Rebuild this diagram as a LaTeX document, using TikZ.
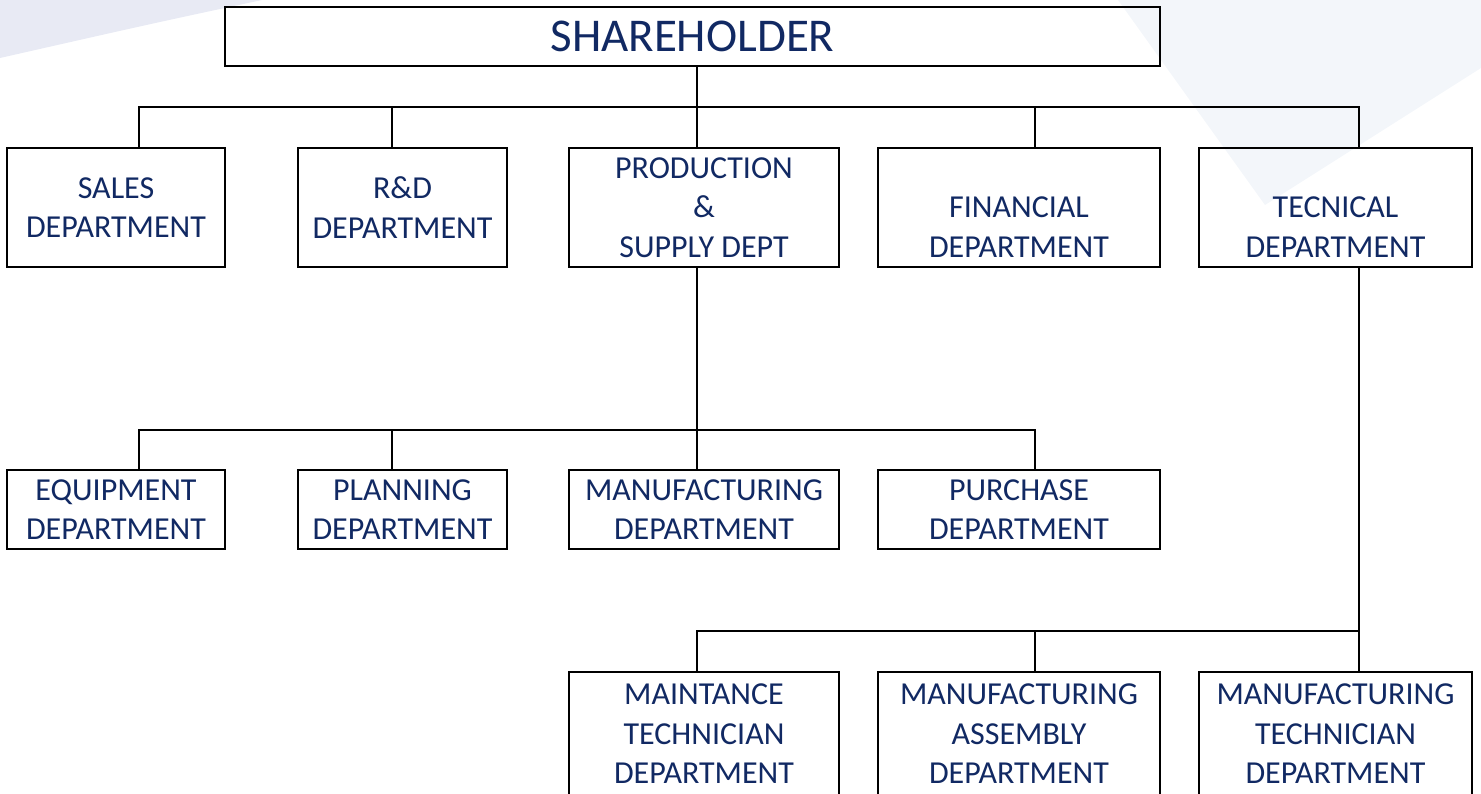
\documentclass[tikz,border=0pt]{standalone}
\usepackage{fontspec}
\setmainfont{Carlito}
\definecolor{deptblue}{RGB}{17,41,99}
\definecolor{shadeleft}{RGB}{232,234,244}
\definecolor{shaderight}{RGB}{243,246,250}

\begin{document}
\begin{tikzpicture}[x=1pt, y=-1pt]
        \tikzstyle{dept}=[rectangle, draw=black, line width=2.8pt, inner sep=0pt, align=center, text=deptblue, font=\fontsize{32}{39.5}\selectfont]
        \tikzstyle{link}=[draw=black, line width=2.8pt, line join=miter]

        \useasboundingbox (0,0) rectangle (1481,793);
        % faint background shapes
        \fill[shadeleft] (0,0) -- (262,0) .. controls (150,24) .. (0,58) -- cycle;
        \fill[shaderight] (1118,0) -- (1265,205) -- (1481,68) -- (1481,0) -- cycle;

        \node[dept, minimum width=935, minimum height=59, font=\fontsize{47}{56}\selectfont] (shareholder) at (692.5,36.5) {SHAREHOLDER};

        % first level
        \node[dept, minimum width=218, minimum height=119] (sales) at (116,207.5) {SALES\\DEPARTMENT};
        \node[dept, minimum width=209, minimum height=119] (rnd) at (402.5,207.5) {R\&D\\DEPARTMENT};
        \node[dept, minimum width=270, minimum height=119] (prod) at (704,207.5) {PRODUCTION\\\&\\SUPPLY DEPT};
        \node[dept, minimum width=282, minimum height=119] (fin) at (1019,207.5) {\vphantom{P}\\FINANCIAL\\DEPARTMENT};
        \node[dept, minimum width=273, minimum height=119] (tech) at (1335.5,207.5) {\vphantom{P}\\TECNICAL\\DEPARTMENT};

        % under production & supply
        \node[dept, minimum width=218, minimum height=79] (equip) at (116,509.5) {EQUIPMENT\\DEPARTMENT};
        \node[dept, minimum width=209, minimum height=79] (plan) at (402.5,509.5) {PLANNING\\DEPARTMENT};
        \node[dept, minimum width=270, minimum height=79] (manuf) at (704,509.5) {MANUFACTURING\\DEPARTMENT};
        \node[dept, minimum width=282, minimum height=79] (purch) at (1019,509.5) {PURCHASE\\DEPARTMENT};

        % under tecnical
        \node[dept, minimum width=270, minimum height=124] (maint) at (704,734) {MAINTANCE\\TECHNICIAN\\DEPARTMENT};
        \node[dept, minimum width=282, minimum height=124] (assy) at (1019,734) {MANUFACTURING\\ASSEMBLY\\DEPARTMENT};
        \node[dept, minimum width=273, minimum height=124] (mtech) at (1335.5,734) {MANUFACTURING\\TECHNICIAN\\DEPARTMENT};

        \coordinate (top-hub) at (697,107);
        \coordinate (mid-hub) at (697,430);
        \coordinate (low-hub) at (1359,631);

        \draw[link] (shareholder.south -| top-hub) -- (top-hub);
        \foreach \n/\x in {sales/139, rnd/392, prod/697, fin/1035, tech/1359}
            \draw[link] (top-hub) -| (\n.north -| \x,0);

        \draw[link] (prod.south -| mid-hub) -- (mid-hub);
        \foreach \n/\x in {equip/139, plan/392, manuf/697, purch/1035}
            \draw[link] (mid-hub) -| (\n.north -| \x,0);

        \draw[link] (tech.south -| low-hub) -- (low-hub);
        \foreach \n/\x in {maint/697, assy/1035, mtech/1359}
            \draw[link] (low-hub) -| (\n.north -| \x,0);
    \end{tikzpicture}
\end{document}
